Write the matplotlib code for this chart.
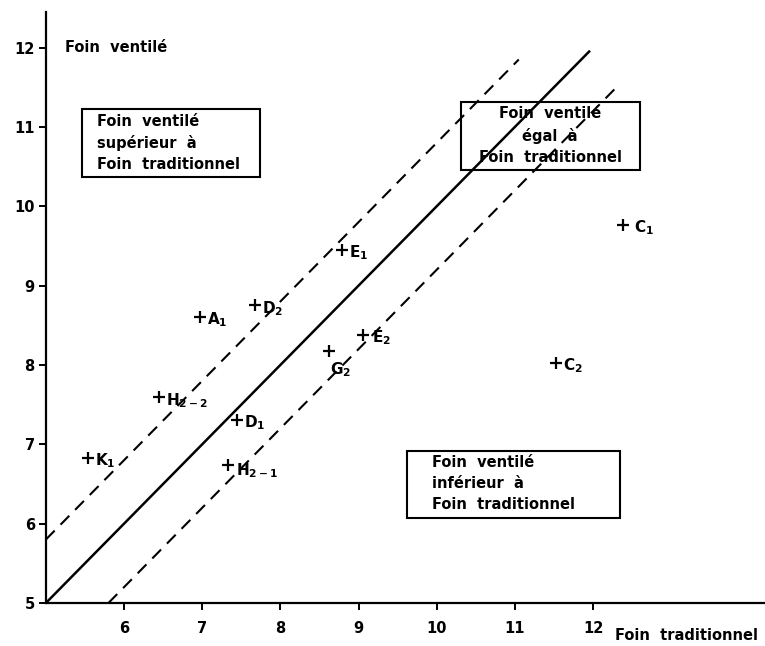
import matplotlib
matplotlib.use('Agg')
import matplotlib.pyplot as plt
from matplotlib.patches import Rectangle

# data (x = foin traditionnel, y = foin ventilé)
names = ['A_1', 'D_2', 'E_1', 'E_2', 'G_2', 'H_{2-2}', 'D_1', 'H_{2-1}', 'K_1', 'C_1', 'C_2']
trad = [6.97, 7.67, 8.79, 9.06, 8.62, 6.45, 7.44, 7.33, 5.54, 12.38, 11.53]
vent = [8.60, 8.75, 9.45, 8.38, 8.17, 7.59, 7.31, 6.74, 6.83, 9.77, 8.03]

margin = 0.8
line_x = [5, 11.95]
upper_x = [5, 11.05]
lower_x = [5.8, 12.3]

x_ticks = [6, 7, 8, 9, 10, 11, 12]
y_ticks = [5, 6, 7, 8, 9, 10, 11, 12]

plt.rcParams['font.family'] = 'DejaVu Sans'
plt.rcParams['font.weight'] = 'bold'
plt.rcParams['mathtext.fontset'] = 'custom'
plt.rcParams['mathtext.rm'] = 'DejaVu Sans:bold'

fig = plt.figure(figsize=(7.65, 6.46), dpi=100)
ax = fig.add_axes([0.060, 0.0666, 0.94, 0.915])
ax.set_xlim(5, 14.2)
ax.set_ylim(5, 12.45)

for s in ['top', 'right']:
    ax.spines[s].set_visible(False)
for s in ['left', 'bottom']:
    ax.spines[s].set_linewidth(1.6)

ax.set_xticks(x_ticks)
ax.set_yticks(y_ticks)
ax.tick_params(direction='out', length=5, width=1.4, labelsize=10.5, pad=3)
ax.tick_params(axis='x', pad=8)

# reference lines
ax.plot(line_x, line_x, color='black', lw=1.8)
ax.plot(upper_x, [v + margin for v in upper_x], color='black', lw=1.5,
        ls=(0, (6, 4)))
ax.plot(lower_x, [v - margin for v in lower_x], color='black', lw=1.5,
        ls=(0, (6, 4)))

# points
ax.plot(trad, vent, ls='none', marker='+', color='black', ms=9, mew=1.6)
offsets = {'G_2': (1, -13), 'H_{2-1}': (6, -4), 'C_1': (8, -2), 'E_2': (6, -2)}
for n, x, y in zip(names, trad, vent):
    off = offsets.get(n, (5, -2))
    ax.annotate(r'$\mathrm{' + n + '}$', (x, y), xytext=off,
                textcoords='offset points', fontsize=11, va='center', ha='left')

# zone boxes
def zone(x0, y0, x1, y1, fill):
    ax.add_patch(Rectangle((x0, y0), x1 - x0, y1 - y0, fill=fill, fc='white',
                           ec='black', lw=1.5, zorder=3 if fill else 1))

zone(5.46, 10.37, 7.74, 11.23, True)
ax.text(5.65, 10.80, 'Foin  ventilé\nsupérieur  à\nFoin  traditionnel',
        fontsize=10.5, va='center', ha='left', linespacing=1.5, zorder=4)

zone(10.31, 10.46, 12.60, 11.32, False)
ax.text(11.45, 10.89, 'Foin  ventilé\négal  à\nFoin  traditionnel',
        fontsize=10.5, va='center', ha='center', linespacing=1.5)

zone(9.62, 6.07, 12.34, 6.92, True)
ax.text(9.94, 6.51, 'Foin  ventilé\ninférieur  à\nFoin  traditionnel',
        fontsize=10.5, va='center', ha='left', linespacing=1.5, zorder=4)

ax.text(5.25, 12.0, 'Foin  ventilé', fontsize=10.5, va='center', ha='left')
fig.text(615 / 765, 1 - 636 / 646, 'Foin  traditionnel', fontsize=10.5, va='center')

fig.savefig('out.png', dpi=100)
